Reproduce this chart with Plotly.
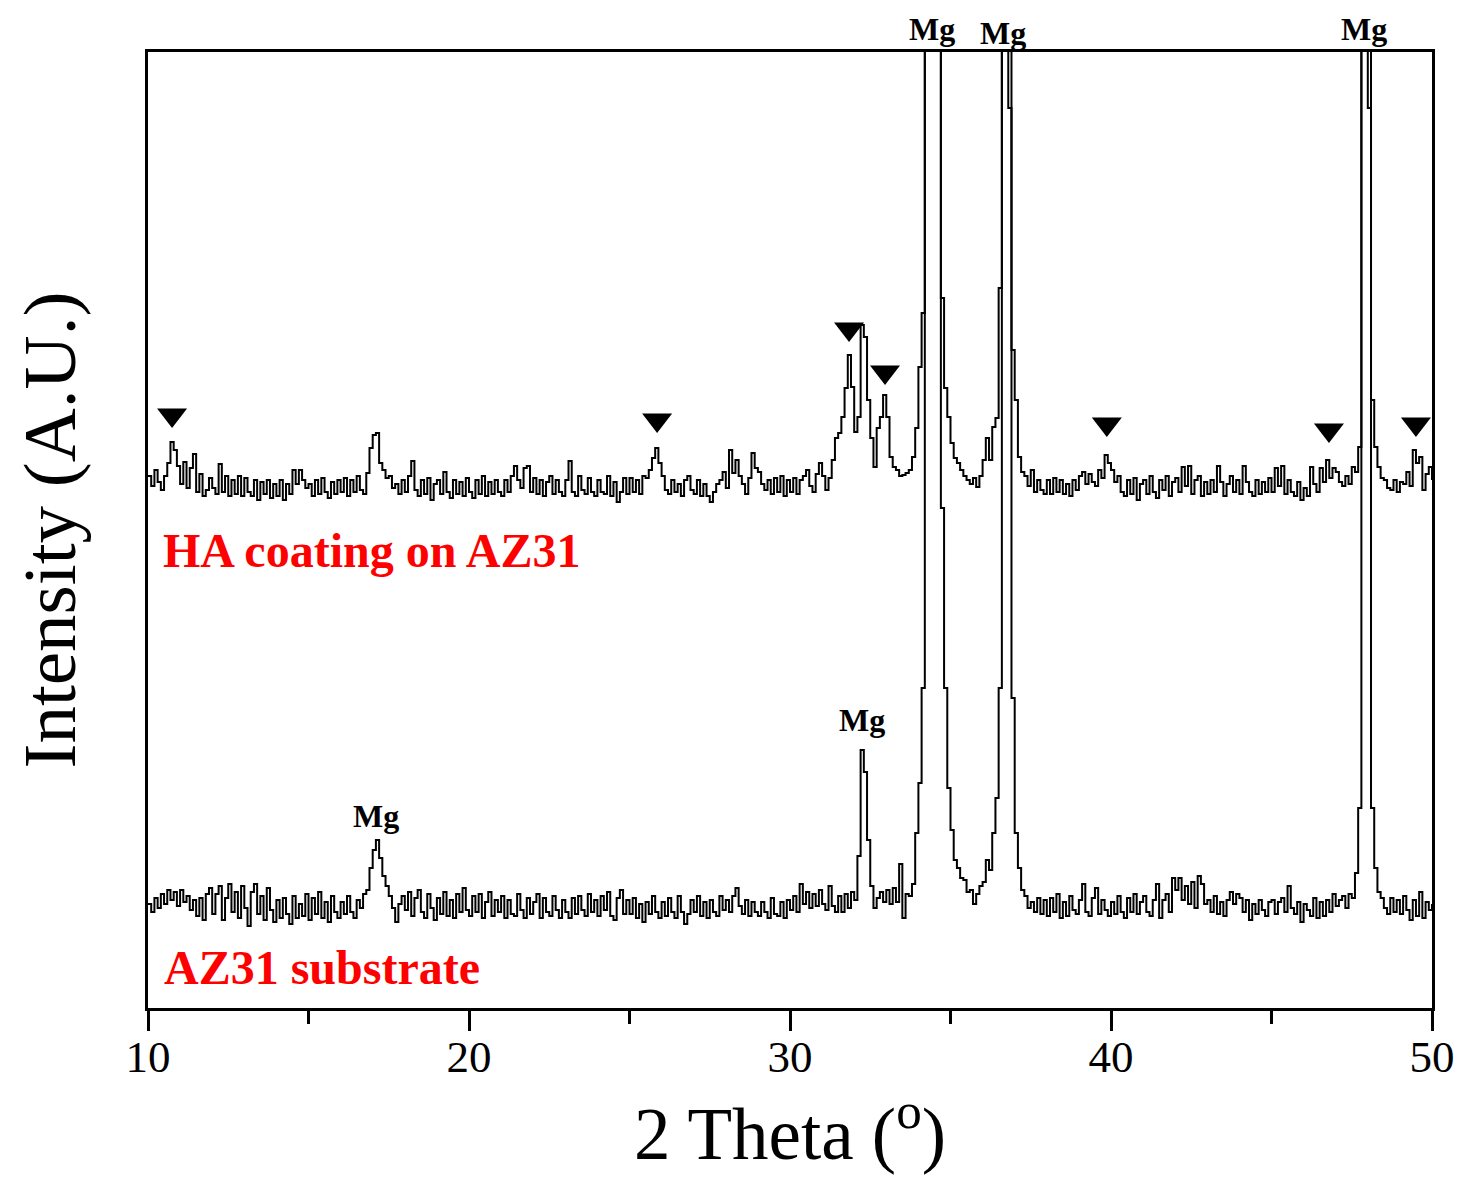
"""
XRD patterns of the AZ31 substrate and the HA coating on AZ31.
Stacked intensity traces (A.U.) with HA and Mg peak markers.
"""

import numpy as np
import plotly.graph_objects as go

# 2-theta sampling of the scans (degrees)
THETA_START, THETA_STOP, THETA_STEP = 10.0, 50.0, 0.1
theta = np.round(np.arange(THETA_START, THETA_STOP + THETA_STEP / 2, THETA_STEP), 1)

# AZ31 substrate, one row per degree (x.0 ... x.9), last value at 50.0
az31_substrate = [
    104, 96, 110, 100, 114, 104, 118, 108, 116, 102,    # 10
    118, 106, 112, 98, 108, 92, 110, 88, 114, 120,      # 11
    94, 114, 122, 88, 110, 124, 96, 116, 90, 122,       # 12
    100, 82, 116, 124, 94, 112, 88, 120, 98, 86,        # 13
    108, 90, 110, 94, 84, 112, 90, 104, 92, 114,        # 14
    88, 110, 94, 116, 90, 106, 86, 112, 96, 90,         # 15
    106, 94, 112, 96, 90, 108, 100, 114, 118, 140,      # 16
    158, 168, 150, 132, 122, 112, 100, 86, 104, 112,    # 17
    98, 116, 92, 110, 118, 96, 90, 114, 100, 88,        # 18
    110, 94, 116, 92, 108, 90, 114, 96, 120, 98,        # 19
    92, 112, 96, 114, 90, 106, 116, 92, 108, 96,        # 20
    112, 90, 108, 94, 92, 114, 98, 90, 110, 94,         # 21
    106, 114, 90, 110, 96, 92, 112, 98, 90, 108,        # 22
    96, 90, 110, 94, 112, 98, 92, 114, 96, 108,         # 23
    92, 112, 98, 116, 92, 88, 110, 118, 94, 108,        # 24
    94, 110, 90, 104, 86, 106, 94, 112, 96, 90,         # 25
    106, 92, 110, 96, 90, 112, 96, 84, 94, 108,         # 26
    96, 112, 92, 106, 90, 108, 96, 92, 112, 98,         # 27
    108, 96, 112, 120, 102, 94, 108, 92, 106, 96,       # 28
    92, 106, 96, 90, 110, 94, 92, 106, 90, 108,         # 29
    98, 112, 96, 124, 104, 116, 100, 114, 102, 118,     # 30
    104, 98, 122, 102, 96, 112, 96, 114, 100, 116,      # 31
    108, 152, 258, 236, 168, 122, 100, 110, 116, 106,   # 32
    118, 104, 120, 106, 144, 90, 114, 112, 124, 175,    # 33
    225, 320, 1300, 1500, 1500, 1500, 1300, 500, 320, 220,  # 34
    178, 148, 140, 130, 128, 116, 118, 104, 114, 122,   # 35
    126, 148, 138, 175, 210, 320, 1300, 1400, 900, 310, # 36
    175, 140, 118, 112, 100, 106, 96, 110, 94, 108,     # 37
    92, 110, 96, 114, 90, 106, 92, 112, 98, 94,         # 38
    108, 124, 96, 92, 110, 120, 94, 108, 98, 92,        # 39
    106, 94, 112, 96, 90, 110, 96, 114, 94, 106,        # 40
    112, 96, 92, 108, 124, 90, 108, 114, 96, 130,       # 41
    118, 130, 108, 122, 104, 126, 100, 132, 124, 104,   # 42
    108, 96, 112, 94, 106, 92, 108, 116, 104, 114,      # 43
    110, 96, 108, 88, 104, 94, 108, 98, 92, 106,        # 44
    108, 94, 106, 110, 96, 122, 100, 94, 106, 86,       # 45
    104, 98, 92, 110, 90, 106, 92, 108, 96, 114,        # 46
    102, 108, 112, 100, 114, 110, 135, 200, 1200, 1400, # 47
    900, 200, 140, 116, 110, 100, 94, 110, 96, 108,     # 48
    94, 112, 98, 88, 108, 92, 116, 90, 106, 98,         # 49
    104,                                                # 50
]

# HA coating on AZ31 (before vertical offset)
ha_coating = [
    112, 102, 118, 106, 98, 112, 125, 146, 138, 122,    # 10
    104, 126, 100, 120, 134, 96, 114, 92, 98, 110,      # 11
    100, 94, 124, 96, 112, 92, 108, 94, 112, 92,        # 12
    110, 96, 92, 108, 88, 106, 94, 108, 90, 104,        # 13
    92, 108, 88, 104, 94, 118, 104, 118, 108, 100,      # 14
    104, 92, 108, 94, 110, 96, 90, 106, 94, 108,        # 15
    96, 110, 92, 108, 96, 112, 98, 94, 115, 140,        # 16
    153, 155, 125, 118, 110, 112, 100, 104, 94, 108,    # 17
    96, 112, 127, 98, 92, 108, 94, 110, 88, 104,        # 18
    108, 94, 116, 96, 90, 108, 94, 106, 92, 110,        # 19
    96, 90, 108, 94, 112, 92, 106, 94, 108, 96,         # 20
    92, 108, 96, 112, 122, 108, 100, 120, 122, 96,      # 21
    110, 94, 108, 92, 106, 112, 94, 108, 96, 92,        # 22
    108, 127, 96, 92, 112, 98, 94, 110, 96, 92,         # 23
    108, 96, 94, 112, 92, 106, 86, 96, 110, 94,         # 24
    110, 96, 108, 94, 112, 110, 118, 130, 140, 125,     # 25
    112, 98, 94, 108, 96, 104, 92, 108, 112, 98,        # 26
    94, 108, 92, 104, 92, 86, 96, 104, 108, 116,        # 27
    100, 138, 115, 128, 112, 104, 94, 110, 135, 120,    # 28
    116, 104, 98, 108, 94, 110, 96, 112, 92, 108,       # 29
    96, 110, 94, 108, 112, 118, 102, 96, 114, 125,      # 30
    112, 98, 110, 128, 150, 155, 171, 200, 233, 201,    # 31
    156, 171, 263, 251, 188, 150, 121, 160, 171, 193,   # 32
    171, 131, 121, 118, 112, 113, 115, 118, 131, 160,   # 33
    221, 275, 1200, 1200, 1200, 1200, 1200, 290, 200, 171,  # 34
    145, 130, 125, 118, 112, 108, 104, 110, 101, 112,   # 35
    128, 150, 128, 161, 170, 300, 1000, 1000, 1000, 238,  # 36
    188, 131, 116, 112, 102, 118, 96, 108, 98, 94,      # 37
    108, 94, 110, 96, 108, 94, 104, 92, 108, 98,        # 38
    112, 116, 104, 114, 106, 102, 118, 110, 133, 125,   # 39
    118, 106, 112, 96, 92, 108, 94, 110, 88, 104,       # 40
    108, 94, 112, 96, 90, 108, 98, 112, 92, 106,        # 41
    110, 96, 121, 102, 122, 94, 108, 112, 92, 106,      # 42
    94, 108, 96, 122, 106, 92, 104, 112, 96, 108,       # 43
    94, 122, 106, 96, 92, 108, 94, 106, 96, 110,        # 44
    96, 120, 102, 122, 94, 108, 96, 92, 106, 88,        # 45
    100, 92, 121, 104, 96, 120, 106, 128, 110, 120,     # 46
    116, 106, 102, 112, 104, 121, 116, 141, 1000, 1000, # 47
    1000, 188, 141, 121, 110, 108, 100, 98, 108, 96,    # 48
    106, 104, 116, 102, 138, 125, 131, 98, 114, 121,    # 49
    108,                                                # 50
]
HA_OFFSET = 420

# HA reflections (triangles), marker height in the HA trace units
ha_peak_theta = [10.75, 25.86, 31.84, 32.96, 39.87, 46.79, 49.5]
ha_peak_level = [173, 168, 259, 216, 164, 158, 164]

# Mg reflection labels: (2theta, intensity where the label sits)
mg_labels = [(17.1, 192), (32.25, 288), (34.42, 979), (36.63, 975), (47.88, 979)]

Y_TOP = 956
assert len(az31_substrate) == len(theta) == len(ha_coating)

FONT = "Liberation Serif"
ha_shifted = [v + HA_OFFSET for v in ha_coating]

fig = go.Figure()
fig.add_trace(go.Scatter(
    x=theta, y=az31_substrate, mode="lines", name="AZ31 substrate",
    line=dict(color="black", width=2, shape="hv"),
))
fig.add_trace(go.Scatter(
    x=theta, y=ha_shifted, mode="lines", name="HA coating on AZ31",
    line=dict(color="black", width=2, shape="hv"),
))
fig.add_trace(go.Scatter(
    x=ha_peak_theta, y=[v + HA_OFFSET for v in ha_peak_level],
    mode="markers", name="HA",
    marker=dict(symbol="triangle-down", size=26, color="black"),
))

# labels may sit above the frame, so place them in paper units
for tx, ty in mg_labels:
    fig.add_annotation(
        x=tx, y=ty / Y_TOP, xref="x", yref="paper",
        xanchor="center", yanchor="middle", borderpad=0,
        text="<b>Mg</b>", showarrow=False,
        font=dict(family=FONT, size=32, color="black"),
    )

fig.add_annotation(
    x=10.4, y=(1008 - 550) / Y_TOP, xref="x", yref="paper",
    xanchor="left", yanchor="middle",
    text="<b>HA coating on AZ31</b>", showarrow=False,
    font=dict(family=FONT, size=48, color="#ff0000"),
)
fig.add_annotation(
    x=10.45, y=(1008 - 967) / Y_TOP, xref="x", yref="paper",
    xanchor="left", yanchor="middle",
    text="<b>AZ31 substrate</b>", showarrow=False,
    font=dict(family=FONT, size=48, color="#ff0000"),
)

fig.update_layout(
    width=1450, height=1178,
    margin=dict(l=140, r=26, t=44, b=178),
    plot_bgcolor="white", paper_bgcolor="white",
    showlegend=False,
    font=dict(family=FONT, color="black"),
)
fig.update_xaxes(
    range=[10, 50], dtick=10, tick0=10,
    ticks="outside", ticklen=20, tickwidth=3, tickcolor="black",
    minor=dict(dtick=5, tick0=10, ticks="outside", ticklen=13,
               tickwidth=3, tickcolor="black"),
    tickfont=dict(family=FONT, size=45, color="black"),
    ticklabelstandoff=-13,
    showline=True, linewidth=3, linecolor="black", mirror=True,
    showgrid=False, zeroline=False,
    title=dict(text="2 Theta (<sup>o</sup>)", standoff=9,
               font=dict(family=FONT, size=73, color="black")),
    automargin=False,
)
fig.update_yaxes(
    range=[0, Y_TOP], showticklabels=False, ticks="",
    showline=True, linewidth=3, linecolor="black", mirror=True,
    showgrid=False, zeroline=False,
    title=dict(text="Intensity (A.U.)", standoff=66,
               font=dict(family=FONT, size=75, color="black")),
    automargin=False,
)

fig.write_html("out.html")
